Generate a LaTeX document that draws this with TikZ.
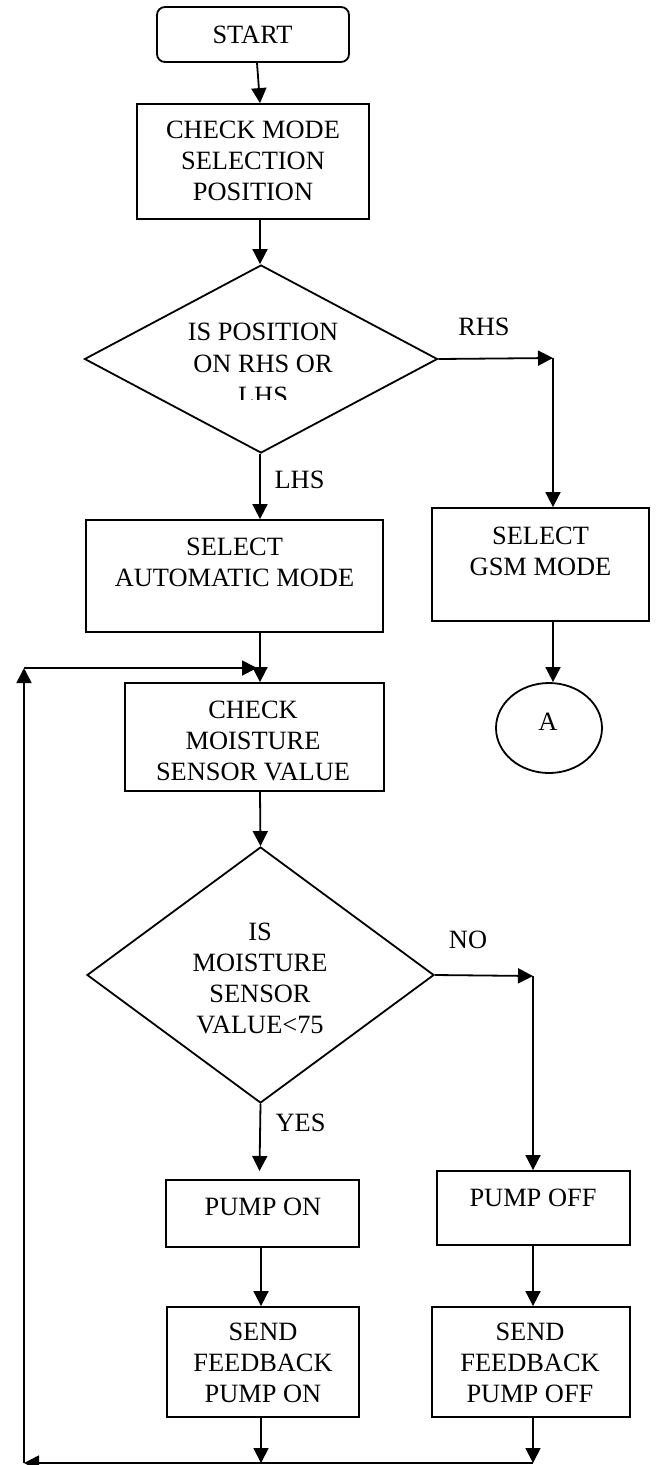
\documentclass[tikz,border=0pt]{standalone}
\usepackage{fontspec}
\setmainfont{Liberation Serif}
\usetikzlibrary{shapes.geometric,arrows.meta}
\newcommand\fsz{\fontsize{26.4}{31}\selectfont}
\newcommand\fszb{\fontsize{26.4}{32}\selectfont}
\begin{document}
\begin{tikzpicture}[x=1pt,y=-1pt,
  shp/.style={draw, line width=1.8pt, inner sep=0pt},
  boxx/.style={shp, rectangle},
  txt/.style={font=\fsz, align=center, inner sep=0pt},
  arr/.style={line width=1.8pt, -{Triangle[length=15pt,width=15pt]}},
  ln/.style={line width=1.8pt}]
\useasboundingbox[fill=white] (0,0) rectangle (656,1465);

% START
\node[boxx, rounded corners=8pt, minimum width=192pt, minimum height=55pt] (start) at (253,34.5) {};
\node[txt] (tstart) at (252.5,35) {START};

% CHECK MODE
\node[boxx, minimum width=232pt, minimum height=115pt] (check) at (253,161.5) {};
\node[txt] (tcheck) at (253,161) {CHECK MODE\\SELECTION\\POSITION};
\draw[arr] ([xshift=4pt]start.south) -- ([xshift=7pt]check.north);

% Decision 1
\node[diamond, shp, minimum width=353pt, minimum height=188pt] (d1) at (261,359) {};
\begin{scope}
  \clip (150,300) rectangle (380,399.5);
  \node[txt, font=\fszb] (td1) at (263,364) {IS POSITION\\ON RHS OR\\LHS};
\end{scope}
\draw[arr] ([xshift=7pt]check.south) -- ([xshift=-1pt]d1.north);

% RHS branch
\node[txt] (lrhs) at (484,327) {RHS};
\coordinate (c1) at (553,358);
\draw[arr] (d1.east) -- (c1);
\node[boxx, minimum width=217pt, minimum height=113pt] (gsm) at (540.5,564.5) {};
\node[txt] (tgsm) at (540.5,551) {SELECT\\GSM MODE};
\draw[arr] (c1) -- (c1 |- gsm.north);
\node[ellipse, shp, minimum width=106pt, minimum height=90pt] (ca) at (549,728) {};
\node[txt] (ta) at (548,722) {A};
\draw[arr] (c1 |- gsm.south) -- (c1 |- ca.north);

% LHS branch
\node[txt] (llhs) at (299.5,480) {LHS};
\node[boxx, minimum width=297pt, minimum height=112pt] (auto) at (234.5,576) {};
\node[txt] (tauto) at (234.5,562.5) {SELECT\\AUTOMATIC MODE};
\draw[arr] ([xshift=-1pt]d1.south) -- ([xshift=-1pt]d1.south |- auto.north);

% CHECK MOISTURE
\node[boxx, minimum width=259pt, minimum height=108pt] (moist) at (254.5,737) {};
\node[txt] (tmoist) at (253,740.5) {CHECK\\MOISTURE\\SENSOR VALUE};
\draw[arr] ([xshift=-1pt]d1.south |- auto.south) -- ([xshift=-1pt]d1.south |- moist.north);

% feedback loop
\coordinate (fbl) at (24,1463);
\coordinate (fbt) at (24,668);
\coordinate (fbe) at (257,668);
\draw[arr] (fbl) -- (fbt);
\draw[arr] (fbt) -- (fbe);

% Decision 2
\node[diamond, shp, minimum width=347pt, minimum height=256pt] (d2) at (260.5,975) {};
\node[txt] (td2) at (260,978) {IS\\MOISTURE\\SENSOR\\VALUE<75};
\draw[arr] ([xshift=-1pt]d1.south |- moist.south) -- (d2.north);

% NO branch
\node[txt] (lno) at (468,940) {NO};
\coordinate (c2) at (533,976);
\draw[arr] (d2.east) -- (c2);
\node[boxx, minimum width=193pt, minimum height=74pt] (poff) at (533.5,1208) {};
\node[txt] (tpoff) at (533,1198) {PUMP OFF};
\draw[arr] (c2) -- (c2 |- poff.north);
\node[boxx, minimum width=198pt, minimum height=110pt] (soff) at (531,1362) {};
\node[txt] (tsoff) at (530,1363) {SEND\\FEEDBACK\\PUMP OFF};
\draw[arr] (c2 |- poff.south) -- (c2 |- soff.north);

% YES branch
\node[txt] (lyes) at (300.5,1123) {YES};
\node[boxx, minimum width=193pt, minimum height=67pt] (pon) at (262.5,1213.5) {};
\node[txt] (tpon) at (263,1207) {PUMP ON};
\coordinate (ponin) at (259.5,1171);
\draw[arr] (d2.south) -- (ponin);
\node[boxx, minimum width=192pt, minimum height=110pt] (son) at (263,1362) {};
\node[txt] (tson) at (263,1363) {SEND\\FEEDBACK\\PUMP ON};
\draw[arr] ([xshift=-1.5pt]pon.south) -- ([xshift=-1.5pt]pon.south |- son.north);

% bottom return
\coordinate (b1) at (261,1463);
\coordinate (b2) at (533,1463);
\draw[arr] (b1 |- son.south) -- (b1);
\draw[arr] (b2 |- soff.south) -- (b2);
\draw[arr] (b2) -- (fbl);
\end{tikzpicture}
\end{document}
